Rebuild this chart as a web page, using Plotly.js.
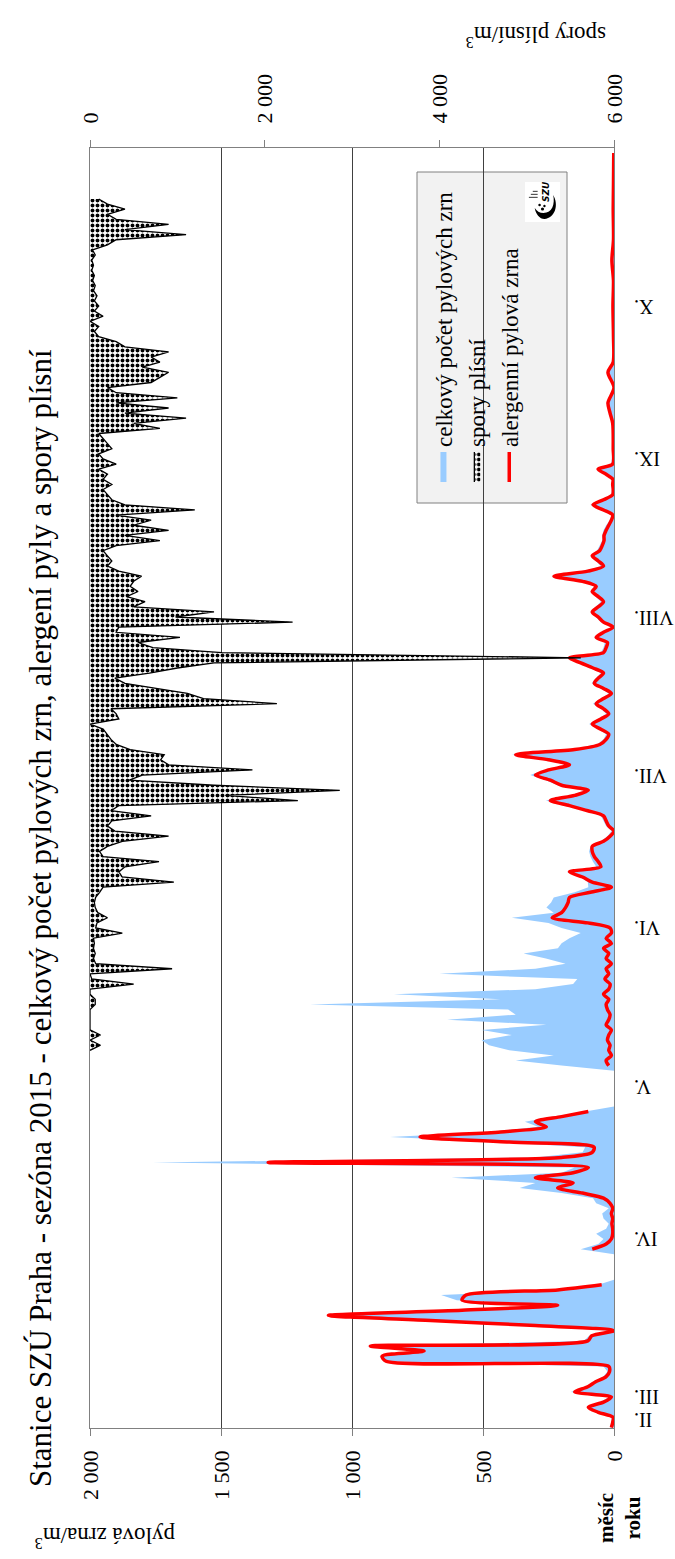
<!DOCTYPE html>
<html><head><meta charset="utf-8">
<script src="https://cdn.plot.ly/plotly-3.0.1.min.js"></script>
<style>
html,body{margin:0;padding:0;background:#fff;overflow:hidden;width:675px;height:1559px}
#wrap{position:absolute;left:0;top:0;width:1559px;height:675px;transform-origin:0 0;transform:translate(0,1559px) rotate(-90deg);}
</style></head><body><div id="wrap"><div id="chart" style="width:1559px;height:675px"></div></div>
<script>
// ---- data ----
const pollenDates = ['02-23','02-24','02-25','02-26','02-27','02-28','03-01','03-02','03-03','03-04','03-05','03-06','03-07','03-08','03-09','03-10','03-11','03-12','03-13','03-14','03-15','03-16','03-17','03-18','03-19','03-20','03-21','03-22','03-23','03-24','03-29','03-30','03-31',
'04-01','04-02','04-03','04-04','04-05','04-06','04-07','04-08','04-09','04-10','04-11','04-12','04-13','04-14','04-15','04-16','04-17','04-18','04-19','04-20','04-21','04-22','04-23','04-24','04-25','04-26','04-27','05-04',
'05-05','05-06','05-07','05-08','05-09','05-10','05-11','05-12','05-13','05-14','05-15','05-16','05-17','05-18','05-19','05-20','05-21','05-22','05-23','05-24','05-25','05-26','05-27','05-28','05-29','05-30','05-31',
'06-01','06-02','06-03','06-04','06-05','06-06','06-07','06-08','06-09','06-10','06-11','06-12','06-13','06-14','06-15','06-16','06-17','06-18','06-19','06-20','06-21','06-22','06-23','06-24','06-25','06-26','06-27','06-28','06-29','06-30',
'07-01','07-02','07-03','07-04','07-05','07-06','07-07','07-08','07-09','07-10','07-11','07-12','07-13','07-14','07-15','07-16','07-17','07-18','07-19','07-20','07-21','07-22','07-23','07-24','07-25','07-26','07-27','07-28','07-29','07-30','07-31',
'08-01','08-02','08-03','08-04','08-05','08-06','08-07','08-08','08-09','08-10','08-11','08-12','08-13','08-14','08-15','08-16','08-17','08-18','08-19','08-20','08-21','08-22','08-23','08-24','08-25','08-26','08-27','08-28','08-29','08-30','08-31',
'09-03','09-08','09-10','09-12','09-15','09-18','09-20','09-25','10-01','10-06','10-10','10-14','10-20','10-25','10-31'].map(d => '2015-' + d);

const totalPollen = [15,10,10,70,105,50,20,165,110,80,40,25,40,880,895,740,945,115,95,8,330,720,1100,600,230,600,660,230,60,0,0,127,60,
40,68,30,20,40,45,20,68,80,200,360,300,620,200,150,1760,300,120,110,450,855,470,290,340,230,110,0,0,
200,375,230,400,477,505,390,505,258,637,375,404,1160,433,840,300,156,140,666,300,185,260,345,214,200,170,127,
200,250,390,230,258,240,230,150,98,100,130,180,68,80,90,95,90,50,25,10,30,40,50,110,185,260,165,110,215,260,
320,265,185,265,390,165,65,40,30,60,95,60,30,50,80,50,20,50,85,70,50,90,140,180,50,40,35,75,50,10,50,
70,90,70,50,70,90,75,130,240,110,50,70,90,65,55,45,45,40,30,15,10,50,90,50,10,8,10,8,35,65,10,
5,8,20,28,3,28,5,2,4,2,8,2,3,2,1];

const allergenPollen = [10,5,3,60,98,40,10,150,100,70,30,17,20,870,885,725,930,100,85,0,300,700,1090,580,215,580,565,215,47,null,null,83,30,
10,5,5,8,5,10,5,15,40,120,215,156,300,156,98,1320,200,83,76,400,740,433,258,300,200,98,null,null,
20,30,10,20,15,25,20,10,30,20,15,25,30,20,40,20,15,35,20,30,10,30,20,40,10,30,10,
15,100,236,200,185,175,170,90,10,83,120,170,50,60,75,83,83,40,15,0,20,30,40,100,170,243,150,98,200,243,
300,250,170,250,375,150,54,30,20,50,83,50,20,40,68,40,10,40,75,60,40,80,127,170,40,30,25,68,40,3,40,
60,83,60,40,60,83,68,120,229,100,40,60,83,55,45,38,38,30,20,10,5,40,80,40,5,3,5,4,30,61,5,
3,5,15,23,0,23,3,2,4,2,8,2,3,2,1];

const sporeDates = ['05-08','05-09','05-10','05-11','05-12','05-16','05-17','05-18','05-19','05-20','05-21','05-22','05-23','05-24','05-25','05-26','05-27','05-28','05-29','05-30','05-31',
'06-01','06-02','06-03','06-04','06-05','06-06','06-07','06-08','06-09','06-10','06-11','06-12','06-13','06-14','06-15','06-16','06-17','06-18','06-19','06-20','06-21','06-22','06-23','06-24','06-25','06-26','06-27','06-28','06-29','06-30',
'07-01','07-02','07-03','07-04','07-05','07-06','07-07','07-08','07-09','07-10','07-11','07-12','07-13','07-14','07-15','07-16','07-17','07-18','07-19','07-20','07-21','07-22','07-23','07-24','07-25','07-26','07-27','07-28','07-29','07-30','07-31',
'08-01','08-02','08-03','08-04','08-05','08-06','08-07','08-08','08-09','08-10','08-11','08-12','08-13','08-14','08-15','08-16','08-17','08-18','08-19','08-20','08-21','08-22','08-23','08-24','08-25','08-26','08-27','08-28','08-29','08-30','08-31',
'09-01','09-02','09-03','09-04','09-05','09-06','09-07','09-08','09-09','09-10','09-11','09-12','09-13','09-14','09-15','09-16','09-17','09-18','09-19','09-20','09-21','09-22','09-23','09-24','09-25','09-26','09-27','09-28','09-29','09-30',
'10-01','10-02','10-03','10-04','10-05','10-06','10-07','10-08','10-09','10-10','10-11','10-12','10-13','10-14','10-15','10-16','10-17','10-18','10-19','10-20','10-21','10-22'].map(d => '2015-' + d);

const sporeCounts = [0,120,0,120,0,0,60,60,0,0,500,20,0,940,65,40,60,40,50,40,370,
65,80,200,90,60,50,65,110,150,960,370,330,400,790,150,110,200,370,900,285,200,250,700,240,330,2380,1550,2860,1420,450,
600,1860,900,810,850,460,300,240,200,150,0,330,300,240,2140,1300,1115,770,400,285,680,1000,1420,5620,1510,720,550,1030,300,330,2320,
980,1420,500,630,420,550,460,500,590,330,200,250,200,150,300,800,400,900,500,700,300,1200,400,250,200,150,250,150,200,100,300,
150,100,250,200,150,100,800,500,1100,400,900,300,1000,300,200,700,800,900,600,800,700,900,400,300,100,50,100,0,150,50,
100,50,80,40,60,30,50,20,40,20,60,30,200,300,1100,400,900,300,200,400,200,100];

const monthTickDates = ['2015-02-24 12:00','2015-03-01','2015-04-01','2015-05-01','2015-06-01','2015-07-01','2015-08-01','2015-09-01','2015-10-01'];
const monthTickLabels = ['II.','III.','IV.','V.','VI.','VII.','VIII.','IX.','X.'];
const pollenTicks = [0,500,1000,1500,2000];
const pollenTickText = ['0','500','1 000','1 500','2 000'];
const sporeTicks = [0,2000,4000,6000];
const sporeTickText = ['0','2 000','4 000','6 000'];

// ---- chart ----
const FONT = '"Liberation Serif", "DejaVu Serif", serif';

const traces = [
  {name:'celkový počet pylových zrn', x:pollenDates, y:totalPollen, type:'scatter', mode:'none',
   fill:'tozeroy', fillcolor:'#99ccff', legendgroup:'a'},
  {name:'spory plísní', x:sporeDates, y:sporeCounts, type:'scatter', mode:'lines', yaxis:'y2',
   fill:'tozeroy', line:{color:'#000', width:1.3},
   fillpattern:{shape:'.', fgcolor:'#000', bgcolor:'#fff', size:5, solidity:0.45}, legendgroup:'b'},
  {name:'alergenní pylová zrna', x:pollenDates, y:allergenPollen, type:'scatter', mode:'lines',
   line:{color:'#ff0000', width:3.5, shape:'spline', smoothing:0.8}, connectgaps:false, legendgroup:'c'}
];

const PL = 131, PR = 1411, PT = 90, PB = 614;
const px = v => (v - PL) / (PR - PL);
const py = v => (PB - v) / (PB - PT);

const logoSvg = "<svg xmlns='http://www.w3.org/2000/svg' width='40' height='36' viewBox='0 0 40 36'>" +
  "<rect width='40' height='36' fill='#ffffff'/>" +
  "<path d='M3 20 C4 31 17 35 27 29 C18 31 9 28 9 19 C9 15 11 12 14 10 C8 11 3 15 3 20 Z' fill='#000000'/>" +
  "<circle cx='13' cy='18' r='1.6' fill='#000000'/><circle cx='17' cy='15' r='1.3' fill='#000000'/><circle cx='16' cy='20' r='1.2' fill='#000000'/>" +
  "<rect x='24' y='4' width='1.2' height='9' fill='#555555'/><rect x='27' y='6' width='1.2' height='7' fill='#555555'/><rect x='30' y='8' width='1.2' height='5' fill='#555555'/>" +
  "<text x='20' y='25' font-size='9' font-style='italic' font-weight='bold' font-family='DejaVu Sans' fill='#000000'>SZU</text></svg>";
const logoSrc = 'data:image/svg+xml;base64,' + btoa(logoSvg);

const layout = {
  width:1559, height:675,
  margin:{l:PL, r:1559-PR, t:PT, b:675-PB},
  paper_bgcolor:'#fff', plot_bgcolor:'#fff',
  font:{family:FONT, size:21, color:'#000'},
  showlegend:true,
  title:{text:'Stanice SZÚ Praha - sezóna 2015 - celkový počet pylových zrn, alergení pyly a spory plísní',
         xref:'container', yref:'container', x:72/1559, xanchor:'left', y:1-40/675, yanchor:'middle',
         font:{family:FONT, size:31, color:'#000'}},
  xaxis:{type:'date', range:['2015-02-22 22:00','2015-11-01'], tickmode:'array', tickvals:monthTickDates, ticktext:monthTickLabels,
         tickangle:-90, showgrid:false, showline:true, linecolor:'#808080', linewidth:1, mirror:true, ticks:'',
         ticklabelstandoff:11, zeroline:false, tickfont:{family:FONT, size:20}},
  yaxis:{range:[0,2000], tickmode:'array', tickvals:pollenTicks, ticktext:pollenTickText, showgrid:true, gridcolor:'#404040', gridwidth:1,
         showline:true, linecolor:'#808080', ticks:'outside', ticklen:7, tickcolor:'#808080', zeroline:false,
         ticklabelstandoff:10, tickfont:{family:FONT, size:22}},
  yaxis2:{overlaying:'y', side:'right', range:[6000,0], tickmode:'array', tickvals:sporeTicks, ticktext:sporeTickText, showgrid:false,
          showline:true, linecolor:'#808080', ticks:'outside', ticklen:7, tickcolor:'#808080', zeroline:false,
          ticklabelstandoff:12, tickfont:{family:FONT, size:22}},
  legend:{x:px(1072), y:py(422), xanchor:'left', yanchor:'top', bgcolor:'rgba(0,0,0,0)', borderwidth:0,
          font:{family:FONT, size:23, color:'#000'}, tracegroupgap:26, itemwidth:30, traceorder:'normal'},
  shapes:[{type:'rect', xref:'paper', yref:'paper', x0:px(1056), x1:px(1387), y0:py(567), y1:py(417),
           fillcolor:'#f2f2f2', line:{color:'#808080', width:1}, layer:'between'}],
  images:[{source:logoSrc, xref:'paper', yref:'paper',
           x:px(1337), y:py(525), sizex:px(1377)-px(1337), sizey:py(525)-py(560), xanchor:'left', yanchor:'top', sizing:'stretch', layer:'above'}],
  annotations:[
    {text:'pylová zrna/m<sup>3</sup>', xref:'paper', yref:'paper', x:px(22), y:py(105), textangle:-90, showarrow:false,
     xanchor:'center', yanchor:'middle', font:{family:FONT, size:23, color:'#000'}},
    {text:'spory plísní/m<sup>3</sup>', xref:'paper', yref:'paper', x:px(1522), y:py(536), textangle:-90, showarrow:false,
     xanchor:'center', yanchor:'middle', font:{family:FONT, size:23, color:'#000'}},
    {text:'<b>měsíc</b><br><b>roku</b>', xref:'paper', yref:'paper', x:px(41), y:py(619), showarrow:false,
     xanchor:'center', yanchor:'middle', align:'center', font:{family:FONT, size:21, color:'#000'}}
  ]
};

Plotly.newPlot('chart', traces, layout, {staticPlot:true, displayModeBar:false, responsive:false});
</script></body></html>
